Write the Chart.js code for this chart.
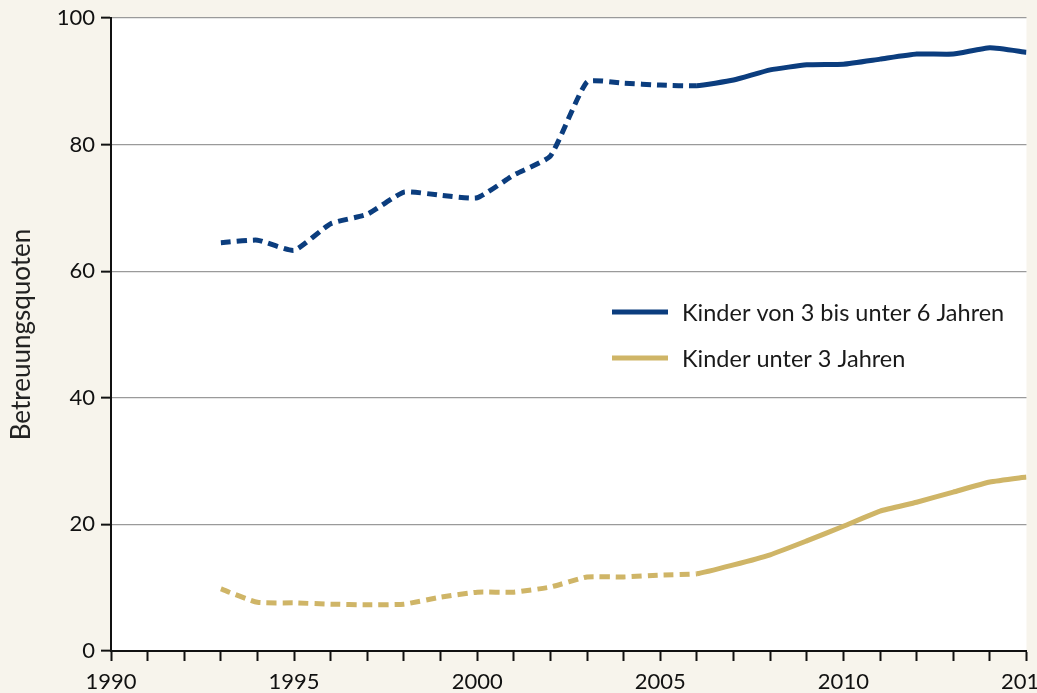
<!DOCTYPE html>
<html>
<head>
<meta charset="utf-8">
<script src="https://cdn.jsdelivr.net/npm/chart.js@4/dist/chart.umd.min.js"></script>
<style>
html,body{margin:0;padding:0;background:#f7f4ec;overflow:hidden;width:1037px;height:693px;}
#wrap{position:absolute;left:0;top:0;width:1060px;height:693px;}
</style>
</head>
<body>
<div id="wrap"><canvas id="c" width="1060" height="693"></canvas></div>
<script>
const years = [1993,1994,1995,1996,1997,1998,1999,2000,2001,2002,2003,2004,2005,2006,2007,2008,2009,2010,2011,2012,2013,2014,2015];
const kinder3bis6 = [64.5,64.9,63.3,67.5,69.0,72.5,72.0,71.6,75.2,78.2,89.9,89.7,89.4,89.3,90.2,91.8,92.6,92.7,93.5,94.3,94.3,95.3,94.6];
const kinderUnter3 = [9.8,7.7,7.6,7.4,7.3,7.4,8.5,9.3,9.3,10.1,11.7,11.7,12.0,12.2,13.6,15.2,17.4,19.7,22.1,23.5,25.1,26.7,27.5];
const seriesLabels = ['Kinder von 3 bis unter 6 Jahren','Kinder unter 3 Jahren'];
const yTicks = [0,20,40,60,80,100];
const xLabelYears = [1990,1995,2000,2005,2010,2015];
const lastEstimatedYear = 2006;
const yTitle = 'Betreuungsquoten';

const BLUE = '#0b3d7e';
const GOLD = '#cfb567';
const FONT = 'Lato, "Open Sans", sans-serif';

const pts = arr => years.map((y,i)=>({x:y,y:arr[i]}));
const dashSeg = {borderDash: ctx => ctx.p1.parsed.x <= lastEstimatedYear ? [10,6] : undefined};

const bgPlugin = {
  id:'bg',
  beforeDraw(chart){
    const {ctx, chartArea:a} = chart;
    ctx.save(); ctx.fillStyle='#ffffff';
    ctx.fillRect(a.left,a.top,a.right-a.left,a.bottom-a.top);
    ctx.restore();
  }
};
const legendPlugin = {
  id:'customLegend',
  afterDatasetsDraw(chart){
    const ctx = chart.ctx;
    ctx.save();
    ctx.font = '23.5px ' + FONT;
    ctx.textBaseline = 'middle';
    chart.data.datasets.forEach((ds,i)=>{
      const y = 312 + i*46;
      ctx.strokeStyle = ds.borderColor; ctx.lineWidth = 5; ctx.lineCap='butt';
      ctx.beginPath(); ctx.moveTo(612,y); ctx.lineTo(668,y); ctx.stroke();
      ctx.fillStyle = '#1a1a1a';
      ctx.fillText(ds.label, 682, y+1);
    });
    ctx.restore();
  }
};

new Chart(document.getElementById('c'), {
  type:'line',
  data:{datasets:[
    {label:seriesLabels[0], data:pts(kinder3bis6), borderColor:BLUE, borderWidth:5, pointRadius:0, tension:0.15, segment:dashSeg, borderCapStyle:'butt'},
    {label:seriesLabels[1], data:pts(kinderUnter3), borderColor:GOLD, borderWidth:5, pointRadius:0, tension:0.15, segment:dashSeg, borderCapStyle:'butt'}
  ]},
  options:{
    responsive:false, animation:false, devicePixelRatio:1,
    layout:{padding:{left:0, top:18, right:33, bottom:0}},
    plugins:{legend:{display:false}, tooltip:{enabled:false}},
    scales:{
      x:{type:'linear', min:1990, max:2015,
        afterFit(s){ s.height = 42; },
        ticks:{stepSize:1, autoSkip:false, maxRotation:0, padding:8, color:'#111', font:{family:FONT, size:22},
          callback:v => xLabelYears.includes(v) ? String(v) : ''},
        grid:{drawOnChartArea:false, drawTicks:true, tickLength:10, tickColor:'#111', tickWidth:2},
        border:{color:'#111', width:2}
      },
      y:{min:0, max:100,
        afterFit(s){ s.width = 111; s.paddingTop = 0; },
        afterBuildTicks(s){ s.ticks = yTicks.map(v=>({value:v})); },
        title:{display:true, text:yTitle, color:'#222', font:{family:FONT, size:26}, padding:{top:6,bottom:4}},
        ticks:{padding:6, color:'#111', font:{family:FONT, size:22}},
        grid:{color:'#9a9a9a', lineWidth:1.3, drawTicks:true, tickLength:10, tickColor:'#111', tickWidth:2},
        border:{color:'#111', width:2}
      }
    }
  },
  plugins:[bgPlugin, legendPlugin]
});
</script>
</body>
</html>
